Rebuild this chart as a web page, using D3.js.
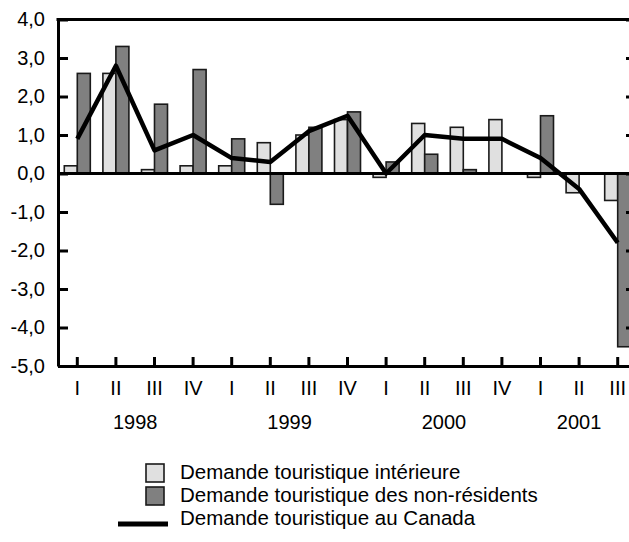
<!DOCTYPE html>
<html>
<head>
<meta charset="utf-8">
<script src="https://cdn.jsdelivr.net/npm/d3@7"></script>
<style>
  html, body { margin: 0; padding: 0; background: #fff; }
  svg { display: block; font-family: "Liberation Sans", Arial, sans-serif; }
</style>
</head>
<body>
<div id="chart"></div>
<script>
// données (variation en %)
const annees = ["1998", "1999", "2000", "2001"];
const trimestres = ["I", "II", "III", "IV", "I", "II", "III", "IV", "I", "II", "III", "IV", "I", "II", "III"];
const anneeDuTrimestre = ["1998", "1998", "1998", "1998", "1999", "1999", "1999", "1999", "2000", "2000", "2000", "2000", "2001", "2001", "2001"];
const interieure = [0.2, 2.6, 0.1, 0.2, 0.2, 0.8, 1.0, 1.4, -0.1, 1.3, 1.2, 1.4, -0.1, -0.5, -0.7];
const nonResidents = [2.6, 3.3, 1.8, 2.7, 0.9, -0.8, 1.2, 1.6, 0.3, 0.5, 0.1, 0.0, 1.5, 0.0, -4.5];
const canada = [0.9, 2.8, 0.6, 1.0, 0.4, 0.3, 1.1, 1.5, 0.0, 1.0, 0.9, 0.9, 0.4, -0.4, -1.8];
const yTicks = [4, 3, 2, 1, 0, -1, -2, -3, -4, -5];
const legende = [
  "Demande touristique intérieure",
  "Demande touristique des non-résidents",
  "Demande touristique au Canada",
];

const width = 629, height = 542;
const margeG = 58, margeD = 637, margeH = 19.5, margeB = 366;
const fontSize = 20, fontLegende = 20.5;
const colorClair = "#e0e0e0", colorFonce = "#808080", colorBord = "#1a1a1a";

const svg = d3.select("#chart").append("svg")
  .attr("width", width).attr("height", height);

const ids = trimestres.map((t, i) => i);
const x = d3.scaleBand().domain(ids).range([margeG, margeD]).padding(0);
const barW = 13;
const sub = d3.scaleBand().domain(["int", "nr"])
  .range([x.bandwidth() / 2 - barW, x.bandwidth() / 2 + barW]).padding(0);
const y = d3.scaleLinear().domain([-5, 4]).range([margeB, margeH]);

// barres
const g = svg.append("g");
const series = [
  { key: "int", values: interieure, fill: colorClair },
  { key: "nr", values: nonResidents, fill: colorFonce },
];
series.forEach((s) => {
  g.selectAll(null)
    .data(s.values.map((v, i) => ({ i, v })).filter((d) => d.v !== 0))
    .join("rect")
    .attr("x", (d) => x(d.i) + sub(s.key))
    .attr("width", sub.bandwidth())
    .attr("y", (d) => y(Math.max(0, d.v)))
    .attr("height", (d) => Math.abs(y(d.v) - y(0)))
    .attr("fill", s.fill)
    .attr("stroke", colorBord)
    .attr("stroke-width", 1.6);
});

// ligne du zéro
svg.append("line")
  .attr("x1", margeG).attr("x2", margeD)
  .attr("y1", y(0)).attr("y2", y(0))
  .attr("stroke", "#000").attr("stroke-width", 3);

// cadre haut
svg.append("line")
  .attr("x1", margeG - 1.5).attr("x2", margeD)
  .attr("y1", margeH).attr("y2", margeH)
  .attr("stroke", "#000").attr("stroke-width", 3);

// axe gauche
const axeY = svg.append("g")
  .attr("transform", `translate(${margeG},0)`)
  .call(d3.axisLeft(y).tickValues(yTicks).tickSizeInner(-10).tickSizeOuter(0)
    .tickPadding(13).tickFormat((d) => d3.format(".1f")(d).replace(".", ",").replace("−", "-")));
axeY.select(".domain").attr("stroke-width", 3);
axeY.selectAll(".tick line").attr("stroke-width", 3);
axeY.selectAll("text").attr("font-size", fontSize).attr("fill", "#000")
  .attr("font-family", "Liberation Sans, Arial, sans-serif");

// axe droit (coupé par le bord)
const axeD = svg.append("g")
  .attr("transform", `translate(${margeD - 2},0)`)
  .call(d3.axisRight(y).tickValues(yTicks).tickSizeInner(-9).tickSizeOuter(0).tickFormat(""));
axeD.select(".domain").attr("stroke-width", 3);
axeD.selectAll(".tick line").attr("stroke-width", 3);

// axe du bas
const axeX = svg.append("g")
  .attr("transform", `translate(0,${margeB})`)
  .call(d3.axisBottom(x).tickSizeInner(-9).tickSizeOuter(0).tickPadding(15)
    .tickFormat((i) => trimestres[i]));
axeX.select(".domain").attr("stroke-width", 3);
axeX.selectAll(".tick line").attr("stroke-width", 3);
axeX.selectAll("text").attr("font-size", fontSize).attr("fill", "#000")
  .attr("font-family", "Liberation Sans, Arial, sans-serif");

// années
svg.append("g").selectAll("text")
  .data(annees)
  .join("text")
  .attr("x", (a) => d3.mean(ids.filter((i) => anneeDuTrimestre[i] === a), (i) => x(i) + x.bandwidth() / 2))
  .attr("y", 429)
  .attr("text-anchor", "middle")
  .attr("font-size", fontSize)
  .text((a) => a);

// ligne Canada
const ligne = d3.line()
  .x((d, i) => x(i) + x.bandwidth() / 2)
  .y((d) => y(d));
svg.append("path")
  .datum(canada)
  .attr("d", ligne)
  .attr("fill", "none")
  .attr("stroke", "#000")
  .attr("stroke-width", 4.5)
  .attr("stroke-linejoin", "round");

// légende
const leg = svg.append("g");
const legY = [479, 502, 525];
leg.append("rect").attr("x", 146).attr("y", legY[0] - 15).attr("width", 18).attr("height", 18)
  .attr("fill", colorClair).attr("stroke", colorBord).attr("stroke-width", 1.6);
leg.append("rect").attr("x", 146).attr("y", legY[1] - 15).attr("width", 18).attr("height", 18)
  .attr("fill", colorFonce).attr("stroke", colorBord).attr("stroke-width", 1.6);
leg.append("line").attr("x1", 118).attr("x2", 168).attr("y1", legY[2] - 1).attr("y2", legY[2] - 1)
  .attr("stroke", "#000").attr("stroke-width", 5);
leg.selectAll("text")
  .data(legende)
  .join("text")
  .attr("x", 180)
  .attr("y", (d, i) => legY[i])
  .attr("font-size", fontLegende)
  .text((d) => d);
</script>
</body>
</html>
